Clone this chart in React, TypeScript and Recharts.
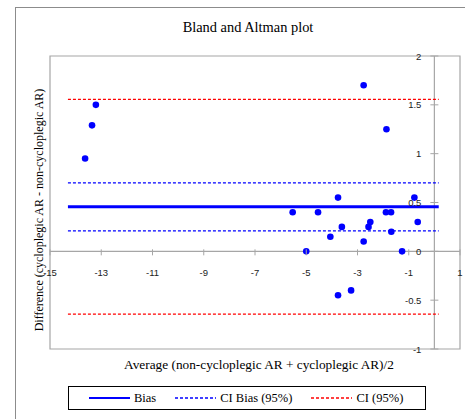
import React from 'react';
import { ComposedChart, Line, Scatter, XAxis, YAxis, ReferenceLine, ReferenceArea, Legend } from 'recharts';

// averages (x) and differences (y)
const avgValues = [-13.63, -13.36, -13.21, -2.76, -1.87, -5.53, -5.0, -4.54, -4.06, -3.76, -3.61, -3.76, -3.25, -2.76, -2.57, -2.5, -1.89, -1.69, -1.68, -1.26, -0.78, -0.65];
const diffValues = [0.95, 1.29, 1.5, 1.7, 1.25, 0.4, 0.0, 0.4, 0.15, 0.55, 0.25, -0.45, -0.4, 0.1, 0.25, 0.3, 0.4, 0.4, 0.2, 0.0, 0.55, 0.3];

const lineSpan = [-14.3, 0.17];
const bias = 0.456;
const ciBias = [0.21, 0.7];
const ci95 = [-0.643, 1.556];

const xTicks = [-15, -13, -11, -9, -7, -5, -3, -1, 1];
const yTicks = [-1, -0.5, 0, 0.5, 1, 1.5, 2];
const xDomain = [-15, 1];
const yDomain = [-1, 2];
const legendOrder = ['Bias', 'CI Bias (95%)', 'CI (95%)'];

const points = avgValues.map((x, i) => ({ x, y: diffValues[i] }));
const flat = (y: number) => lineSpan.map(x => ({ x, y }));

const W = 465;
const H = 419;
const margin = { top: 56, right: 5, bottom: 69, left: 49 };
// axes are 1px each, plot area starts after them
const plotLeft = margin.left + 1;
const plotW = W - plotLeft - margin.right;
const plotH = H - margin.top - margin.bottom - 1;
const zeroX = plotLeft + ((0 - xDomain[0]) / (xDomain[1] - xDomain[0])) * plotW;
const zeroY = margin.top + ((yDomain[1] - 0) / (yDomain[1] - yDomain[0])) * plotH;

const GRAY = '#a6a6a6';
const tickFont = { fontFamily: '"Liberation Sans", Arial, sans-serif', fontSize: 9.5, fill: '#222' };
const serif = '"Liberation Serif", "Times New Roman", serif';

const seriesStyle: Record<string, { color: string; width: number; dash?: string }> = {
    'Bias': { color: '#0000ff', width: 2.2 },
    'CI Bias (95%)': { color: '#0000ff', width: 1.3, dash: '3 2' },
    'CI (95%)': { color: '#ff0000', width: 1.3, dash: '3 2' },
};

const XTick = (props: any) => {
    const { x, payload } = props;
    return (
        <g>
            <line x1={x} x2={x} y1={zeroY - 2} y2={zeroY + 4} stroke={GRAY} />
            <text x={x} y={zeroY + 25} textAnchor="middle" {...tickFont}>{payload.value}</text>
        </g>
    );
};

const YTick = (props: any) => {
    const { y, payload } = props;
    return (
        <g>
            <line x1={zeroX - 4} x2={zeroX + 4} y1={y} y2={y} stroke={GRAY} />
            <text x={zeroX - 13} y={y + 3.5} textAnchor="end" {...tickFont}>{payload.value}</text>
        </g>
    );
};

const LegendBox = (props: any) => {
    const seen = new Set<string>();
    const items = (props.payload || []).filter((p: any) => {
        if (!seriesStyle[p.value] || seen.has(p.value)) return false;
        seen.add(p.value);
        return true;
    });
    items.sort((a: any, b: any) => legendOrder.indexOf(a.value) - legendOrder.indexOf(b.value));
    return (
        <div style={{ boxSizing: 'border-box', width: 358, height: 24, border: '1.5px solid #000', display: 'flex', alignItems: 'center', paddingLeft: 20, gap: 19, fontFamily: serif, fontSize: 12.5, color: '#000', background: '#fff', whiteSpace: 'nowrap' }}>
            {items.map((p: any) => {
                const s = seriesStyle[p.value];
                return (
                    <div key={p.value} style={{ display: 'flex', alignItems: 'center', gap: 4 }}>
                        <svg width={41} height={6}>
                            <line x1={0} x2={41} y1={3} y2={3} stroke={s.color} strokeWidth={s.width} strokeDasharray={s.dash} />
                        </svg>
                        <span>{p.value}</span>
                    </div>
                );
            })}
        </div>
    );
};

const App: React.FC = () => {
    return (
        <div style={{ position: 'absolute', left: 0, top: 0, width: W, height: H, overflow: 'hidden', background: '#fff' }}>
            <div style={{ position: 'absolute', left: 15, top: 7, width: 470, height: 430, border: '1px solid #8c8c8c' }} />
            <div style={{ position: 'absolute', left: 0, top: 0 }}>
                <ComposedChart width={W} height={H} margin={margin}>
                    <XAxis type="number" dataKey="x" domain={xDomain} ticks={xTicks} height={1} axisLine={false} tickLine={false} tick={<XTick />} interval={0} allowDataOverflow />
                    <YAxis type="number" dataKey="y" domain={yDomain} ticks={yTicks} width={1} axisLine={false} tickLine={false} tick={<YTick />} interval={0} allowDataOverflow />
                    <ReferenceArea x1={xDomain[0]} x2={xDomain[1]} y1={yDomain[0]} y2={yDomain[1]} fill="none" stroke={GRAY} strokeWidth={1.2} ifOverflow="visible" />
                    <ReferenceLine x={0} stroke={GRAY} strokeWidth={1.2} />
                    <ReferenceLine y={0} stroke={GRAY} strokeWidth={1.2} />
                    <Line data={flat(ci95[0])} dataKey="y" name="CI (95%)" stroke="#ff0000" strokeWidth={1.3} strokeDasharray="3 2" dot={false} isAnimationActive={false} />
                    <Line data={flat(ci95[1])} dataKey="y" name="CI (95%)" stroke="#ff0000" strokeWidth={1.3} strokeDasharray="3 2" dot={false} isAnimationActive={false} />
                    <Line data={flat(ciBias[0])} dataKey="y" name="CI Bias (95%)" stroke="#0000ff" strokeWidth={1.3} strokeDasharray="3 2" dot={false} isAnimationActive={false} />
                    <Line data={flat(ciBias[1])} dataKey="y" name="CI Bias (95%)" stroke="#0000ff" strokeWidth={1.3} strokeDasharray="3 2" dot={false} isAnimationActive={false} />
                    <Line data={flat(bias)} dataKey="y" name="Bias" stroke="#0000ff" strokeWidth={3} dot={false} isAnimationActive={false} />
                    <Scatter data={points} dataKey="y" name="Points" legendType="none" isAnimationActive={false}
                        shape={(p: any) => <circle cx={p.cx} cy={p.cy} r={3.3} fill="#0000ff" />} />
                    <Legend layout="vertical" align="center" verticalAlign="middle" content={<LegendBox />}
                        wrapperStyle={{ left: 68, top: 386, width: 358, height: 24, bottom: 'auto', right: 'auto' }} />
                </ComposedChart>
            </div>
            <div style={{ position: 'absolute', left: 0, width: 496, top: 19, textAlign: 'center', fontFamily: serif, fontSize: 14.4, color: '#000', whiteSpace: 'nowrap' }}>
                Bland and Altman plot
            </div>
            <div style={{ position: 'absolute', left: 0, width: 518, top: 357, textAlign: 'center', fontFamily: serif, fontSize: 13.3, color: '#000', whiteSpace: 'nowrap' }}>
                Average (non-cycloplegic AR + cycloplegic AR)/2
            </div>
            <div style={{ position: 'absolute', left: 39, top: 210, width: 0, height: 0 }}>
                <div style={{ position: 'absolute', left: -150, top: -8, width: 300, textAlign: 'center', transform: 'rotate(-90deg)', fontFamily: serif, fontSize: 12, color: '#000', whiteSpace: 'nowrap', lineHeight: '16px' }}>
                    Difference (cycloplegic AR - non-cycloplegic AR)
                </div>
            </div>
        </div>
    );
};

export default App;
